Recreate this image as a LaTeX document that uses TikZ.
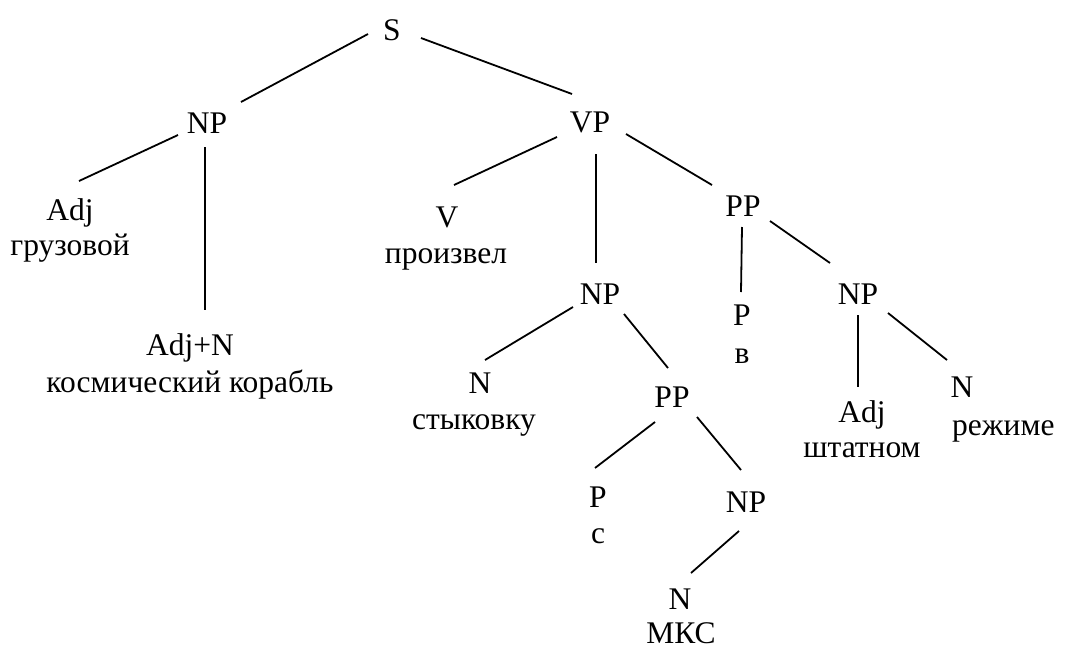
\documentclass[tikz,border=0pt]{standalone}
\usepackage{fontspec}
\newfontfamily\treefont{LiberationSerif}[Extension=.ttf,UprightFont=*-Regular]
\begin{document}
\begin{tikzpicture}[x=1pt,y=-1pt,
  cat/.style={anchor=base,inner sep=0pt,text height=21pt,text depth=0pt,font=\treefont\fontsize{31.5}{36}\selectfont},
  word/.style={anchor=base,inner sep=0pt,font=\treefont\fontsize{31.5}{36}\selectfont},
  branch/.style={line width=1.8pt,line cap=butt}]
\useasboundingbox (0,0) rectangle (1071,646);
% category nodes (positioned at baseline)
\node[cat] (S)   at (392,40)  {S};
\node[cat] (NPa) at (207,133) {NP};
\node[cat] (VP)  at (590,132) {VP};
\node[cat] (AdjA) at (70,220) {Adj};
\node[cat] (AdjN) at (190,355) {Adj+N};
\node[cat] (V)   at (447,227) {V};
\node[cat] (NPb) at (600,304) {NP};
\node[cat] (PPa) at (743,216) {PP};
\node[cat] (Pa)  at (742,325) {P};
\node[cat] (NPc) at (858,304) {NP};
\node[cat] (AdjB) at (862,422) {Adj};
\node[cat] (Na)  at (962,397) {N};
\node[cat] (Nb)  at (480,393) {N};
\node[cat] (PPb) at (672,407) {PP};
\node[cat] (Pb)  at (598,507) {P};
\node[cat] (NPd) at (746,512) {NP};
\node[cat] (Nc)  at (680,609) {N};
% words
\node[word] (w1) at (70,255)  {грузовой};
\node[word] (w2) at (190,392) {космический корабль};
\node[word] (w3) at (446,263) {произвел};
\node[word] (w4) at (742,363) {в};
\node[word] (w5) at (474,429) {стыковку};
\node[word] (w6) at (862,457) {штатном};
\node[word,anchor=base west] (w7) at (952,435) {режиме};
\node[word] (w8) at (598,543) {с};
\node[word] (w9) at (681,643) {МКС};
% branches
\draw[branch] ([shift={(-24,4.5)}]S.center) -- ([shift={(34,-20.5)}]NPa.center);
\draw[branch] ([shift={(29,8.5)}]S.center) -- ([shift={(-18,-27.5)}]VP.center);
\draw[branch] ([shift={(-29,12.5)}]NPa.center) -- ([shift={(9,-28.5)}]AdjA.center);
\draw[branch] ([shift={(-2,24.5)}]NPa.center) -- ([shift={(15,-34.5)}]AdjN.center);
\draw[branch] ([shift={(-33,15.5)}]VP.center) -- ([shift={(7,-31.5)}]V.center);
\draw[branch] ([shift={(6,32.5)}]VP.center) -- ([shift={(-4,-30.5)}]NPb.center);
\draw[branch] ([shift={(36,12.5)}]VP.center) -- ([shift={(-31,-20.5)}]PPa.center);
\draw[branch] ([shift={(-1,21.5)}]PPa.center) -- ([shift={(-1,-22.5)}]Pa.center);
\draw[branch] ([shift={(27,15.5)}]PPa.center) -- ([shift={(-28,-30.5)}]NPc.center);
\draw[branch] ([shift={(0,21.5)}]NPc.center) -- ([shift={(-4,-24.5)}]AdjB.center);
\draw[branch] ([shift={(30,19.5)}]NPc.center) -- ([shift={(-15,-26.5)}]Na.center);
\draw[branch] ([shift={(-27,13.5)}]NPb.center) -- ([shift={(5,-22.5)}]Nb.center);
\draw[branch] ([shift={(24,20.5)}]NPb.center) -- ([shift={(-4,-28.5)}]PPb.center);
\draw[branch] ([shift={(-17,25.5)}]PPb.center) -- ([shift={(-3,-28.5)}]Pb.center);
\draw[branch] ([shift={(25,20.5)}]PPb.center) -- ([shift={(-5,-31.5)}]NPd.center);
\draw[branch] ([shift={(-7,29.5)}]NPd.center) -- ([shift={(11,-25.5)}]Nc.center);
\end{tikzpicture}
\end{document}
